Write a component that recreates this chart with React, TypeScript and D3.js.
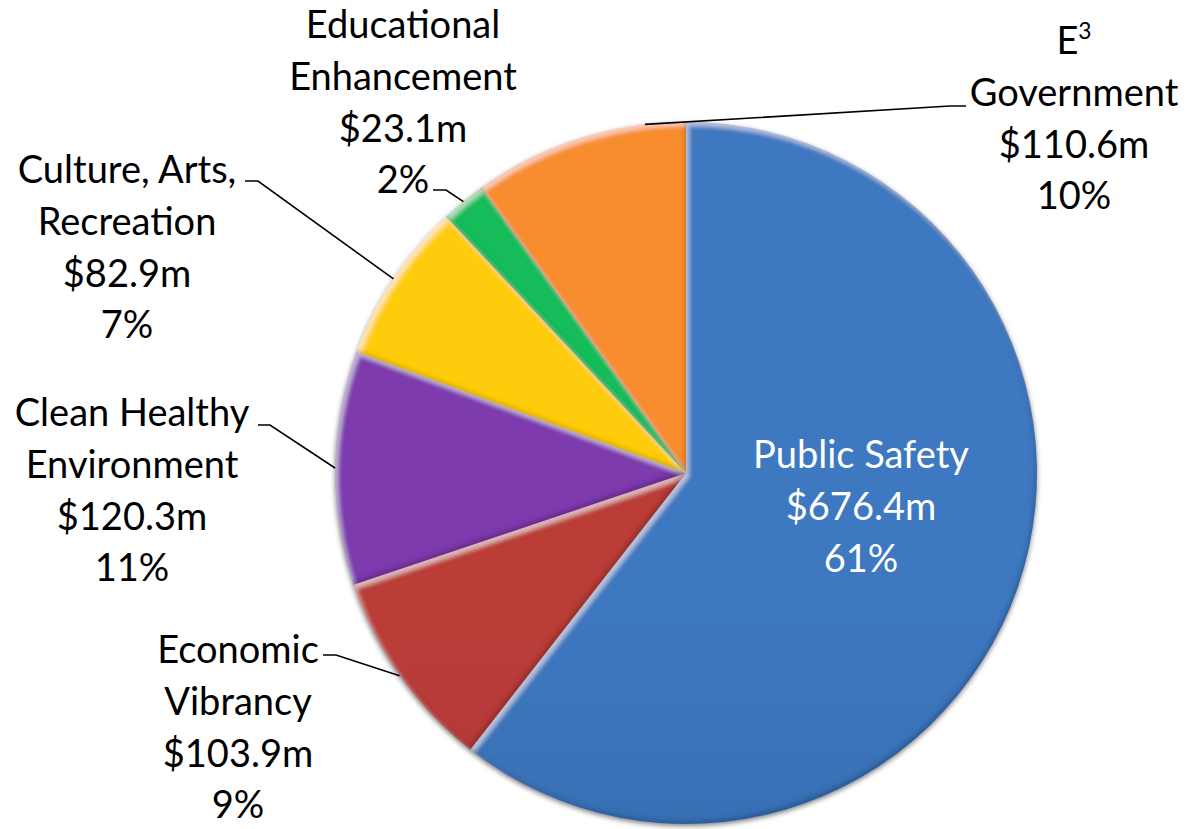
import React from "react";
import * as d3 from "d3";

const categories = [
  "Public Safety",
  "Economic Vibrancy",
  "Clean Healthy Environment",
  "Culture, Arts, Recreation",
  "Educational Enhancement",
  "E3 Government",
];
const values = [676.4, 103.9, 120.3, 82.9, 23.1, 110.6];
const percentLabels = ["61%", "9%", "11%", "7%", "2%", "10%"];
const amountLabels = ["$676.4m", "$103.9m", "$120.3m", "$82.9m", "$23.1m", "$110.6m"];
const nameLines = [
  ["Public Safety"],
  ["Economic", "Vibrancy"],
  ["Clean Healthy", "Environment"],
  ["Culture, Arts,", "Recreation"],
  ["Educational", "Enhancement"],
  ["E3", "Government"],
];

const colorsTop = ["#3e78c0", "#bb3d39", "#7e3aad", "#ffcc0e", "#14bb5a", "#f78d2e"];
const colorsBottom = ["#2e5e9b", "#a2302d", "#7234a0", "#fbc400", "#0ea64f", "#d9762a"];

const W = 1189;
const H = 829;
const CX = 686;
const CY = 473;
const R = 351;
const FONT = "Lato, 'Open Sans', sans-serif";
const FS = 38;
const LH = 51.8;

// label layout: text centre x, first baseline y, elbow points for leader
const labelLayout = [
  { x: 861, y: 468, leader: null as null | number[][], anchorAngle: null as null | number, color: "#fff" },
  { x: 238, y: 663, leader: [[323, 655], [336, 655]], anchorAngle: null, color: "#000" },
  { x: 132, y: 426, leader: [[258, 425], [270, 425]], anchorAngle: null, color: "#000" },
  { x: 127, y: 183, leader: [[245, 181], [258, 181]], anchorAngle: null, color: "#000" },
  { x: 403, y: 38, leader: [[433, 190], [446, 190]], anchorAngle: null, color: "#000" },
  { x: 1074, y: 54, leader: [[966, 106], [950, 106]], anchorAngle: -6.7, color: "#000" },
];

export default function App() {
  const pie = d3
    .pie<number>()
    .sort(null)
    .startAngle(0)
    .endAngle(2 * Math.PI)
    .value((d) => d);
  const arcs = pie(values);
  const arc = d3.arc<d3.PieArcDatum<number>>().innerRadius(0).outerRadius(R);

  return (
    <svg width={W} height={H} style={{ display: "block", position: "absolute", left: 0, top: 0 }}>
      <defs>
        {categories.map((c, i) => (
          <linearGradient
            key={c}
            id={`g${i}`}
            gradientUnits="userSpaceOnUse"
            x1={0}
            y1={CY - R}
            x2={0}
            y2={CY + R}
          >
            <stop offset="0" stopColor={colorsTop[i]} />
            <stop offset="1" stopColor={colorsBottom[i]} />
          </linearGradient>
        ))}
        <filter id="bevel" x="-5%" y="-5%" width="110%" height="110%">
          <feGaussianBlur in="SourceAlpha" stdDeviation="2.2" result="blur" />
          <feOffset in="blur" dx="2.5" dy="3.5" result="off1" />
          <feComposite in="SourceAlpha" in2="off1" operator="out" result="hl" />
          <feFlood floodColor="#ffffff" floodOpacity="0.45" result="white" />
          <feComposite in="white" in2="hl" operator="in" result="hlc" />
          <feOffset in="blur" dx="-2.5" dy="-3.5" result="off2" />
          <feComposite in="SourceAlpha" in2="off2" operator="out" result="sh" />
          <feFlood floodColor="#000000" floodOpacity="0.35" result="black" />
          <feComposite in="black" in2="sh" operator="in" result="shc" />
          <feMerge>
            <feMergeNode in="SourceGraphic" />
            <feMergeNode in="hlc" />
            <feMergeNode in="shc" />
          </feMerge>
        </filter>
        <filter id="drop" x="-10%" y="-10%" width="120%" height="120%">
          <feDropShadow dx="0" dy="2" stdDeviation="2.5" floodColor="#000" floodOpacity="0.5" />
        </filter>
      </defs>
      <rect width={W} height={H} fill="#fff" />
      <g transform={`translate(${CX},${CY})`}>
        <g filter="url(#drop)">
          {arcs.map((a, i) => (
            <path key={i} d={arc(a) || ""} fill={`url(#g${i})`} filter="url(#bevel)" />
          ))}
        </g>
      </g>
      {arcs.map((a, i) => {
        const lay = labelLayout[i];
        if (!lay.leader) return null;
        const ang =
          lay.anchorAngle !== null ? (lay.anchorAngle * Math.PI) / 180 : (a.startAngle + a.endAngle) / 2;
        const ex = CX + R * Math.sin(ang);
        const ey = CY - R * Math.cos(ang);
        const pts = [...lay.leader, [ex, ey]];
        const line = d3.line()(pts as [number, number][]);
        return <path key={`l${i}`} d={line || ""} fill="none" stroke="#000" strokeWidth={1.6} />;
      })}
      {arcs.map((a, i) => {
        const lay = labelLayout[i];
        const lines = [...nameLines[i], amountLabels[i], percentLabels[i]];
        return (
          <text
            key={`t${i}`}
            x={lay.x}
            y={lay.y}
            textAnchor="middle"
            fontFamily={FONT}
            fontSize={FS}
            fill={lay.color}
          >
            {lines.map((ln, j) => (
              <tspan key={j} x={lay.x} y={lay.y + j * LH}>
                {ln === "E3" ? (
                  <>
                    E<tspan fontSize={FS * 0.6} dy={-15}>3</tspan>
                  </>
                ) : (
                  ln
                )}
              </tspan>
            ))}
          </text>
        );
      })}
    </svg>
  );
}
